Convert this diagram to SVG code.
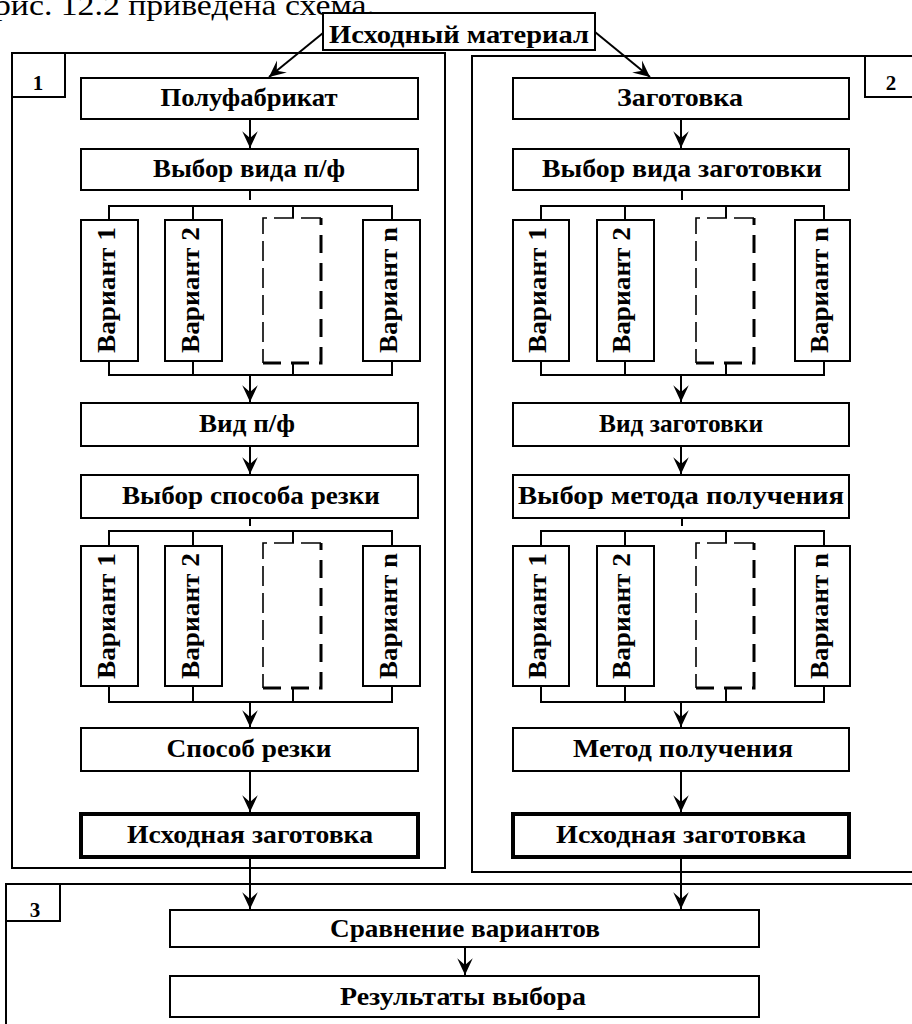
<svg xmlns="http://www.w3.org/2000/svg" width="912" height="1024" viewBox="0 0 912 1024">
  <style>
    .box { fill: #fff; stroke: #000; stroke-width: 2; }
    .bold { stroke-width: 4; }
    .frame { fill: none; stroke: #000; stroke-width: 2; }
    .t { font-family: "Liberation Serif", "Times New Roman", serif; font-size: 25px; font-weight: bold; fill: #000; text-anchor: middle; }
    .num { font-family: "Liberation Serif", "Times New Roman", serif; font-size: 21px; font-weight: bold; fill: #000; text-anchor: middle; }
    .page { font-family: "Liberation Serif", "Times New Roman", serif; font-size: 30px; fill: #000; }
    .ln { stroke: #000; stroke-width: 2; fill: none; }
    .arr { stroke: #000; stroke-width: 2; fill: none; marker-end: url(#head); }
    .dthin { fill: none; stroke: #000; stroke-width: 1.6; stroke-dasharray: 20 7; }
    .dthick { fill: none; stroke: #000; stroke-width: 3; stroke-dasharray: 18 10; }
  </style>
  <defs>
    <marker id="head" markerUnits="userSpaceOnUse" markerWidth="20" markerHeight="20" viewBox="-16 -8 18 16" refX="0" refY="0" orient="auto">
      <path d="M0,0 L-15,-7 L-9,0 L-15,7 Z" fill="#000"/>
    </marker>
  </defs>

  <rect width="912" height="1024" fill="#fff"/>

  <!-- running text line above the scheme -->
  <text class="page" x="-6" y="15" textLength="381" lengthAdjust="spacingAndGlyphs">рис. 12.2 приведена схема.</text>

  <!-- section frames -->
  <g id="frame1">
    <rect class="frame" x="12" y="53" width="433" height="815"/>
    <rect class="frame" x="12" y="53" width="53" height="44"/>
    <text class="num" x="38" y="90">1</text>
  </g>
  <g id="frame2">
    <rect class="frame" x="472" y="56" width="460" height="816"/>
    <rect class="frame" x="865" y="56" width="60" height="41"/>
    <text class="num" x="891" y="90">2</text>
  </g>
  <g id="frame3">
    <rect class="frame" x="6" y="884" width="920" height="160"/>
    <rect class="frame" x="6" y="884" width="54" height="37"/>
    <text class="num" x="35" y="917">3</text>
  </g>

  <!-- connectors -->
  <g id="connectors">
    <line class="arr" x1="323" y1="33" x2="269" y2="77"/>
    <line class="arr" x1="595" y1="32" x2="650" y2="77"/>

    <!-- left column -->
    <line class="arr" x1="250" y1="119" x2="250" y2="148"/>
    <line class="ln" x1="250" y1="190" x2="250" y2="200"/>
    <polyline class="ln" points="109,220 109,206 392,206 392,220"/>
    <line class="ln" x1="193" y1="206" x2="193" y2="220"/>
    <line class="ln" x1="293" y1="206" x2="293" y2="218"/>
    <polyline class="ln" points="109,361 109,375 392,375 392,361"/>
    <line class="ln" x1="193" y1="361" x2="193" y2="375"/>
    <line class="ln" x1="293" y1="363" x2="293" y2="375"/>
    <line class="arr" x1="250" y1="375" x2="250" y2="402"/>
    <line class="arr" x1="250" y1="446" x2="250" y2="474"/>
    <line class="ln" x1="250" y1="518" x2="250" y2="526"/>
    <polyline class="ln" points="109,546 109,531 392,531 392,546"/>
    <line class="ln" x1="193" y1="531" x2="193" y2="546"/>
    <line class="ln" x1="293" y1="531" x2="293" y2="543"/>
    <polyline class="ln" points="109,686 109,702 392,702 392,686"/>
    <line class="ln" x1="193" y1="686" x2="193" y2="702"/>
    <line class="ln" x1="293" y1="688" x2="293" y2="702"/>
    <line class="arr" x1="250" y1="702" x2="250" y2="727"/>
    <line class="arr" x1="250" y1="771" x2="250" y2="812"/>

    <!-- right column -->
    <line class="arr" x1="681" y1="119" x2="681" y2="148"/>
    <line class="ln" x1="682" y1="190" x2="682" y2="200"/>
    <polyline class="ln" points="541,220 541,206 824,206 824,220"/>
    <line class="ln" x1="625" y1="206" x2="625" y2="220"/>
    <line class="ln" x1="726" y1="206" x2="726" y2="218"/>
    <polyline class="ln" points="541,361 541,375 824,375 824,361"/>
    <line class="ln" x1="625" y1="361" x2="625" y2="375"/>
    <line class="ln" x1="726" y1="363" x2="726" y2="375"/>
    <line class="arr" x1="681" y1="375" x2="681" y2="402"/>
    <line class="arr" x1="681" y1="446" x2="681" y2="474"/>
    <line class="ln" x1="682" y1="518" x2="682" y2="526"/>
    <polyline class="ln" points="541,546 541,531 824,531 824,546"/>
    <line class="ln" x1="625" y1="531" x2="625" y2="546"/>
    <line class="ln" x1="726" y1="531" x2="726" y2="543"/>
    <polyline class="ln" points="541,686 541,702 824,702 824,686"/>
    <line class="ln" x1="625" y1="686" x2="625" y2="702"/>
    <line class="ln" x1="726" y1="688" x2="726" y2="702"/>
    <line class="arr" x1="681" y1="702" x2="681" y2="727"/>
    <line class="arr" x1="681" y1="771" x2="681" y2="812"/>

    <!-- into comparison -->
    <line class="arr" x1="250" y1="857" x2="250" y2="909"/>
    <line class="arr" x1="681" y1="857" x2="681" y2="909"/>
    <line class="arr" x1="465" y1="947" x2="465" y2="975"/>
  </g>

  <!-- nodes -->
  <g id="material">
    <rect class="box" x="323" y="13" width="272" height="37"/>
    <text class="t" x="459" y="43" textLength="260" lengthAdjust="spacingAndGlyphs">Исходный материал</text>
  </g>

  <g id="polufabrikat">
    <rect class="box" x="81" y="78" width="337" height="41"/>
    <text class="t" x="249" y="106" textLength="177" lengthAdjust="spacingAndGlyphs">Полуфабрикат</text>
  </g>
  <g id="vybor-vida-pf">
    <rect class="box" x="81" y="149" width="337" height="41"/>
    <text class="t" x="249" y="177" textLength="192" lengthAdjust="spacingAndGlyphs">Выбор вида п/ф</text>
  </g>
  <g id="l1-var1">
    <rect class="box" x="81" y="220" width="57" height="141"/>
    <text class="t" transform="translate(115,290) rotate(-90)" textLength="126" lengthAdjust="spacingAndGlyphs">Вариант 1</text>
  </g>
  <g id="l1-var2">
    <rect class="box" x="165" y="220" width="57" height="141"/>
    <text class="t" transform="translate(199,290) rotate(-90)" textLength="126" lengthAdjust="spacingAndGlyphs">Вариант 2</text>
  </g>
  <g id="l1-varx">
    <path class="dthin" d="M321,218 H263 V363"/>
    <path class="dthick" d="M263,363 H321 V218"/>
  </g>
  <g id="l1-varn">
    <rect class="box" x="363" y="220" width="57" height="141"/>
    <text class="t" transform="translate(397,290) rotate(-90)" textLength="126" lengthAdjust="spacingAndGlyphs">Вариант n</text>
  </g>
  <g id="vid-pf">
    <rect class="box" x="81" y="403" width="337" height="43"/>
    <text class="t" x="247" y="432" textLength="96" lengthAdjust="spacingAndGlyphs">Вид п/ф</text>
  </g>
  <g id="vybor-sposoba">
    <rect class="box" x="81" y="475" width="337" height="43"/>
    <text class="t" x="251" y="504" textLength="258" lengthAdjust="spacingAndGlyphs">Выбор способа резки</text>
  </g>
  <g id="l2-var1">
    <rect class="box" x="81" y="546" width="57" height="140"/>
    <text class="t" transform="translate(115,616) rotate(-90)" textLength="126" lengthAdjust="spacingAndGlyphs">Вариант 1</text>
  </g>
  <g id="l2-var2">
    <rect class="box" x="165" y="546" width="57" height="140"/>
    <text class="t" transform="translate(199,616) rotate(-90)" textLength="126" lengthAdjust="spacingAndGlyphs">Вариант 2</text>
  </g>
  <g id="l2-varx">
    <path class="dthin" d="M321,543 H263 V688"/>
    <path class="dthick" d="M263,688 H321 V543"/>
  </g>
  <g id="l2-varn">
    <rect class="box" x="363" y="546" width="57" height="140"/>
    <text class="t" transform="translate(397,616) rotate(-90)" textLength="126" lengthAdjust="spacingAndGlyphs">Вариант n</text>
  </g>
  <g id="sposob-rezki">
    <rect class="box" x="81" y="728" width="337" height="43"/>
    <text class="t" x="249" y="757" textLength="165" lengthAdjust="spacingAndGlyphs">Способ резки</text>
  </g>
  <g id="ishodnaya-left">
    <rect class="box bold" x="81" y="814" width="337" height="43"/>
    <text class="t" x="250" y="843" textLength="246" lengthAdjust="spacingAndGlyphs">Исходная заготовка</text>
  </g>

  <g id="zagotovka">
    <rect class="box" x="513" y="78" width="336" height="41"/>
    <text class="t" x="680" y="106" textLength="126" lengthAdjust="spacingAndGlyphs">Заготовка</text>
  </g>
  <g id="vybor-vida-zag">
    <rect class="box" x="513" y="149" width="336" height="41"/>
    <text class="t" x="682" y="177" textLength="280" lengthAdjust="spacingAndGlyphs">Выбор вида заготовки</text>
  </g>
  <g id="r1-var1">
    <rect class="box" x="513" y="220" width="56" height="141"/>
    <text class="t" transform="translate(546,290) rotate(-90)" textLength="126" lengthAdjust="spacingAndGlyphs">Вариант 1</text>
  </g>
  <g id="r1-var2">
    <rect class="box" x="597" y="220" width="57" height="141"/>
    <text class="t" transform="translate(630,290) rotate(-90)" textLength="126" lengthAdjust="spacingAndGlyphs">Вариант 2</text>
  </g>
  <g id="r1-varx">
    <path class="dthin" d="M754,218 H696 V363"/>
    <path class="dthick" d="M696,363 H754 V218"/>
  </g>
  <g id="r1-varn">
    <rect class="box" x="795" y="220" width="55" height="141"/>
    <text class="t" transform="translate(828,290) rotate(-90)" textLength="126" lengthAdjust="spacingAndGlyphs">Вариант n</text>
  </g>
  <g id="vid-zag">
    <rect class="box" x="513" y="403" width="336" height="43"/>
    <text class="t" x="681" y="432" textLength="164" lengthAdjust="spacingAndGlyphs">Вид заготовки</text>
  </g>
  <g id="vybor-metoda">
    <rect class="box" x="513" y="475" width="336" height="43"/>
    <text class="t" x="681" y="504" textLength="326" lengthAdjust="spacingAndGlyphs">Выбор метода получения</text>
  </g>
  <g id="r2-var1">
    <rect class="box" x="513" y="546" width="56" height="140"/>
    <text class="t" transform="translate(546,616) rotate(-90)" textLength="126" lengthAdjust="spacingAndGlyphs">Вариант 1</text>
  </g>
  <g id="r2-var2">
    <rect class="box" x="597" y="546" width="57" height="140"/>
    <text class="t" transform="translate(630,616) rotate(-90)" textLength="126" lengthAdjust="spacingAndGlyphs">Вариант 2</text>
  </g>
  <g id="r2-varx">
    <path class="dthin" d="M754,543 H696 V688"/>
    <path class="dthick" d="M696,688 H754 V543"/>
  </g>
  <g id="r2-varn">
    <rect class="box" x="795" y="546" width="55" height="140"/>
    <text class="t" transform="translate(828,616) rotate(-90)" textLength="126" lengthAdjust="spacingAndGlyphs">Вариант n</text>
  </g>
  <g id="metod-polucheniya">
    <rect class="box" x="513" y="728" width="336" height="43"/>
    <text class="t" x="683" y="757" textLength="220" lengthAdjust="spacingAndGlyphs">Метод получения</text>
  </g>
  <g id="ishodnaya-right">
    <rect class="box bold" x="513" y="814" width="336" height="43"/>
    <text class="t" x="681" y="843" textLength="250" lengthAdjust="spacingAndGlyphs">Исходная заготовка</text>
  </g>

  <g id="sravnenie">
    <rect class="box" x="170" y="910" width="589" height="37"/>
    <text class="t" x="465" y="937" textLength="270" lengthAdjust="spacingAndGlyphs">Сравнение вариантов</text>
  </g>
  <g id="rezultaty">
    <rect class="box" x="170" y="976" width="589" height="41"/>
    <text class="t" x="463" y="1005" textLength="246" lengthAdjust="spacingAndGlyphs">Результаты выбора</text>
  </g>
</svg>
